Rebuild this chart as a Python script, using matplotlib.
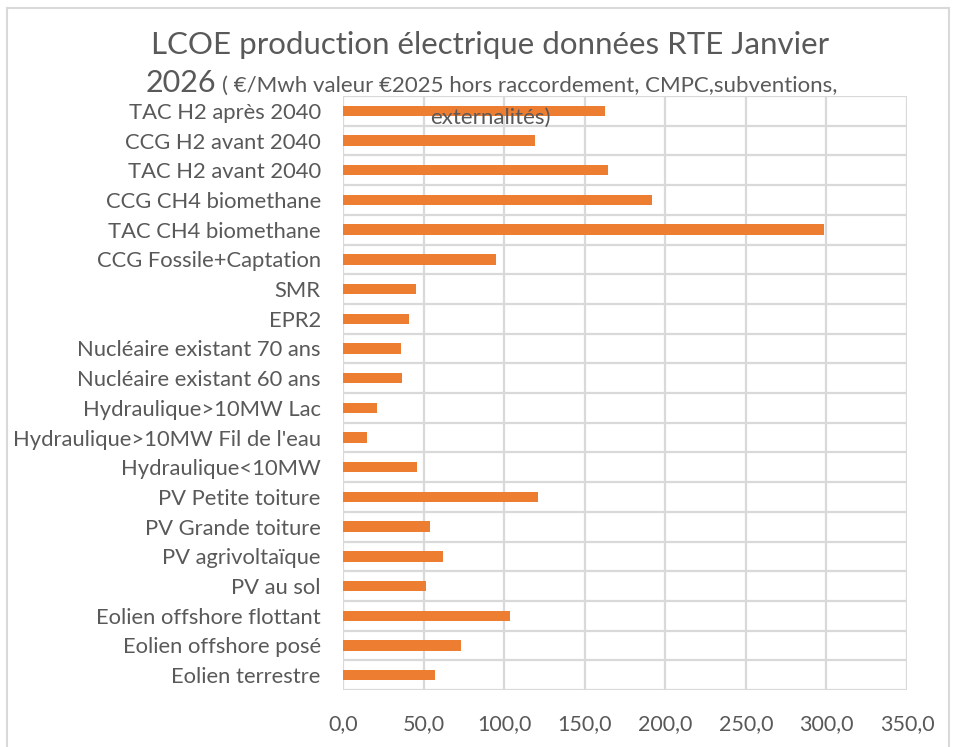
import matplotlib
matplotlib.use('Agg')
import matplotlib.pyplot as plt
from matplotlib.patches import Rectangle
import numpy as np

categories = ['Eolien terrestre', 'Eolien offshore posé', 'Eolien offshore flottant',
              'PV au sol', 'PV agrivoltaïque', 'PV Grande toiture', 'PV Petite toiture',
              'Hydraulique<10MW', "Hydraulique>10MW Fil de l'eau", 'Hydraulique>10MW Lac',
              'Nucléaire existant 60 ans', 'Nucléaire existant 70 ans', 'EPR2', 'SMR',
              'CCG Fossile+Captation', 'TAC CH4 biomethane', 'CCG CH4 biomethane',
              'TAC H2 avant 2040', 'CCG H2 avant 2040', 'TAC H2 après 2040']
lcoe = [57.3, 73.5, 103.7, 51.5, 62.3, 53.7, 120.8, 45.8, 15.2, 20.8,
        36.5, 36.0, 41.0, 45.1, 95.1, 298.2, 191.7, 164.4, 119.3, 162.8]
xticks = [0, 50, 100, 150, 200, 250, 300, 350]

plt.rcParams['font.family'] = ['Lato', 'DejaVu Sans']
grey = '#595959'
grid = '#D9D9D9'

fig = plt.figure(figsize=(9.55, 7.47), dpi=100)
ax = fig.add_axes([343 / 955, 1 - 690 / 747, 564 / 955, 594 / 747])

y = np.arange(len(categories))
ax.barh(y, lcoe, height=0.35, color='#ED7D31', zorder=2)

ax.set_xlim(0, 350)
ax.set_ylim(-0.5, len(categories) - 0.5)
ax.set_xticks(xticks)
ax.set_xticklabels([('%.1f' % v).replace('.', ',') for v in xticks],
                   fontsize=15.5, color=grey)
ax.set_yticks(y)
ax.set_yticklabels(categories, fontsize=15.8, color=grey)
ax.tick_params(length=0, axis='both')
ax.tick_params(axis='x', pad=17)
ax.tick_params(axis='y', pad=16)

for v in xticks:
    ax.axvline(v, color=grid, lw=1.6, zorder=1)
for b in np.arange(-0.5, len(categories), 1.0):
    ax.axhline(b, color=grid, lw=1.6, zorder=1)
for s in ax.spines.values():
    s.set_visible(False)

# outer chart border
fig.patches.append(Rectangle((7 / 955, -0.01), 942 / 955, 1 - 8 / 747 + 0.01,
                             transform=fig.transFigure, fill=False,
                             edgecolor='#D9D9D9', lw=1.5))

fig.text(490 / 955, 1 - 45 / 747, 'LCOE production électrique données RTE Janvier',
         ha='center', va='center', fontsize=22.5, color=grey)
fig.text(216 / 955, 1 - 83 / 747, '2026', ha='right', va='center', fontsize=22, color=grey)
fig.text(222 / 955, 1 - 86 / 747, '( €/Mwh valeur €2025 hors raccordement, CMPC,subventions,',
         ha='left', va='center', fontsize=16, color=grey)
fig.text(490 / 955, 1 - 118 / 747, 'externalités)', ha='center', va='center',
         fontsize=16, color=grey, zorder=5)

fig.savefig('out.png', dpi=100)
